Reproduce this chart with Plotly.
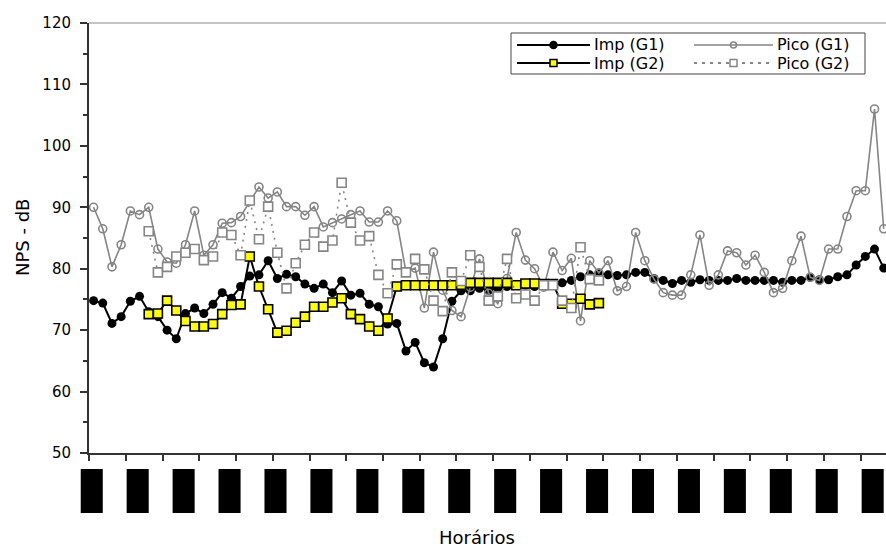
import plotly.graph_objects as go

# ---------------- data ----------------
n_points = 87
cats = list(range(n_points))

imp_g1 = [74.8, 74.4, 71.1, 72.2, 74.7, 75.5, 73.0, 72.2, 70.0, 68.6,
          72.7, 73.6, 72.7, 74.2, 76.1, 75.2, 77.1, 78.8, 79.0, 81.3,
          78.4, 79.1, 78.7, 77.5, 76.8, 77.5, 76.1, 78.0, 75.7, 76.0,
          74.2, 73.8, 71.0, 71.1, 66.6, 68.0, 64.7, 64.0, 68.6, 74.7,
          76.4, 76.4, 76.8, 76.5, 76.8, 77.1, 77.3, 77.3, 77.1, 77.3,
          77.5, 77.7, 78.1, 78.7, 79.0, 79.3, 79.0, 78.9, 79.0, 79.4,
          79.4, 78.4, 78.1, 77.6, 78.1, 77.8, 78.2, 78.1, 78.1, 78.1,
          78.4, 78.1, 78.1, 78.1, 78.1, 77.8, 78.1, 78.1, 78.6, 78.2,
          78.2, 78.7, 79.0, 80.6, 82.0, 83.2, 80.1]

pico_g1 = [90.0, 86.5, 80.3, 83.9, 89.4, 88.8, 90.0, 83.2, 81.1, 80.9,
           83.9, 89.4, 82.2, 83.9, 87.4, 87.5, 88.5, 91.0, 93.3, 91.5,
           92.5, 90.1, 90.1, 88.7, 90.1, 86.8, 87.5, 88.1, 88.8, 89.4,
           87.6, 87.6, 89.4, 87.8, 79.5, 80.1, 73.6, 82.7, 76.5, 73.2,
           72.2, 77.0, 81.6, 76.0, 74.3, 78.4, 85.9, 81.4, 80.0, 77.0,
           82.7, 79.7, 81.7, 71.5, 81.3, 79.3, 81.3, 76.4, 77.1, 85.9,
           81.3, 78.3, 76.1, 75.7, 75.7, 79.0, 85.5, 77.3, 79.0, 82.9,
           82.6, 80.6, 82.2, 79.4, 76.1, 76.8, 81.3, 85.3, 78.6, 78.1,
           83.2, 83.2, 88.5, 92.7, 92.7, 106.0, 86.5]

g2_start = 6
imp_g2 = [72.6, 72.7, 74.8, 73.2, 71.5, 70.6, 70.6, 71.0, 72.6, 74.1,
          74.2, 82.0, 77.1, 73.4, 69.6, 69.9, 71.2, 72.2, 73.8, 73.8,
          74.5, 75.2, 72.6, 71.8, 70.6, 69.9, 71.9, 77.1, 77.3, 77.3,
          77.3, 77.3, 77.3, 77.3, 77.4, 77.7, 77.7, 77.7, 77.7, 77.7,
          77.3, 77.6, 77.6, 77.5, 77.5, 74.3, 74.3, 75.1, 74.2, 74.4]

pico_g2 = [86.1, 79.4, 80.3, 82.0, 82.6, 83.2, 81.4, 82.0, 85.9, 85.5,
           82.2, 91.1, 84.8, 90.1, 82.6, 76.8, 80.9, 83.9, 85.9, 83.6,
           84.6, 94.0, 87.5, 84.6, 85.3, 79.0, 76.0, 80.7, 79.4, 81.6,
           79.9, 74.8, 73.1, 79.4, 78.0, 82.2, 80.3, 74.8, 75.5, 81.6,
           75.2, 75.8, 74.8, 77.3, 77.3, 74.8, 73.6, 83.5, 78.3, 78.1]

series_names = ["Imp (G1)", "Pico (G1)", "Imp (G2)", "Pico (G2)"]
label_cats = list(range(0, n_points, 5))   # positions of the (blacked-out) time labels
y_title = "NPS - dB"
x_title = "Horários"

# ---------------- layout helpers ----------------
W, H = 886, 548
ML, MR, MT, MB = 89, 0, 23, 95
PW, PH = W - ML - MR, H - MT - MB
FONT = "DejaVu Sans"
GRAY = "#858585"
AX = "#333333"
X_RANGE = [-0.5, 86.25]


def fx(px):
    return (px - ML) / PW


def fy(py):
    return (H - MB - py) / PH


def cat_to_paper(c):
    return (c - X_RANGE[0]) / (X_RANGE[1] - X_RANGE[0])


def pad(vals, start):
    return [None] * start + list(vals) + [None] * (n_points - start - len(vals))


fig = go.Figure()
fig.add_trace(go.Scatter(
    x=cats, y=imp_g1, name=series_names[0], mode="lines+markers",
    line=dict(color="black", width=2),
    marker=dict(symbol="circle", size=9, color="black"),
    showlegend=False))
fig.add_trace(go.Scatter(
    x=cats, y=pico_g1, name=series_names[1], mode="lines+markers",
    line=dict(color=GRAY, width=1.6),
    marker=dict(symbol="circle-open", size=8, color=GRAY, line=dict(width=1.6, color=GRAY)),
    showlegend=False))
fig.add_trace(go.Scatter(
    x=cats, y=pad(imp_g2, g2_start), name=series_names[2], mode="lines+markers",
    line=dict(color="black", width=2),
    marker=dict(symbol="square", size=9, color="#FFFF00", line=dict(width=1.6, color="black")),
    showlegend=False))
fig.add_trace(go.Scatter(
    x=cats, y=pad(pico_g2, g2_start), name=series_names[3], mode="lines+markers",
    line=dict(color=GRAY, width=1.6, dash="2px,5px"),
    marker=dict(symbol="square", size=9, color="white", line=dict(width=1.6, color=GRAY)),
    showlegend=False))

shapes = []
# top border of plot area
shapes.append(dict(type="line", xref="paper", yref="paper", x0=0, x1=1, y0=1, y1=1,
                   line=dict(color="#8a8a8a", width=1), layer="below"))
# blacked-out category labels (drawn unclipped, in paper units)
for c in label_cats:
    shapes.append(dict(type="rect", xref="paper", yref="paper",
                       x0=cat_to_paper(c - 1.4), x1=cat_to_paper(c + 1.0),
                       y0=fy(513), y1=fy(469),
                       fillcolor="black", line=dict(width=0)))

# ---------------- legend (manual, Excel style) ----------------
lg_x0, lg_x1, lg_y0, lg_y1 = 511, 865, 33, 74
row_y = [45, 63]
col_line = [(517, 590), (694, 773)]
col_text = [593, 776]
shapes.append(dict(type="rect", xref="paper", yref="paper",
                   x0=fx(lg_x0), x1=fx(lg_x1), y0=fy(lg_y1), y1=fy(lg_y0),
                   fillcolor="white", line=dict(color="#444444", width=1), layer="above"))
styles = [
    dict(lc="black", lw=2, dash="solid", mk="circle", mfill="black", mline="black", ms=7),
    dict(lc=GRAY, lw=1.6, dash="solid", mk="circle", mfill="rgba(0,0,0,0)", mline=GRAY, ms=6),
    dict(lc="black", lw=2, dash="solid", mk="rect", mfill="#FFFF00", mline="black", ms=7),
    dict(lc=GRAY, lw=2, dash="3px,5px", mk="rect", mfill="white", mline=GRAY, ms=7),
]
annotations = []
for k, name in enumerate(series_names):
    r, col = k // 2, k % 2
    st = styles[k]
    yy = row_y[r]
    xa, xb = col_line[col]
    shapes.append(dict(type="line", xref="paper", yref="paper",
                       x0=fx(xa), x1=fx(xb), y0=fy(yy), y1=fy(yy),
                       line=dict(color=st["lc"], width=st["lw"], dash=st["dash"]), layer="above"))
    xm = (xa + xb) / 2
    h = st["ms"] / 2
    shapes.append(dict(type="circle" if st["mk"] == "circle" else "rect",
                       xref="paper", yref="paper",
                       x0=fx(xm - h), x1=fx(xm + h), y0=fy(yy + h), y1=fy(yy - h),
                       fillcolor=st["mfill"], line=dict(color=st["mline"], width=1.5), layer="above"))
    annotations.append(dict(text=name, xref="paper", yref="paper", x=fx(col_text[col]), y=fy(yy),
                            xanchor="left", yanchor="middle", showarrow=False, borderpad=0,
                            font=dict(family=FONT, size=16, color="black")))

annotations.append(dict(text=y_title, xref="paper", yref="paper", x=fx(22), y=fy(238),
                        textangle=-90, xanchor="center", yanchor="middle", showarrow=False,
                        font=dict(family=FONT, size=18, color="black")))
annotations.append(dict(text=x_title, xref="paper", yref="paper", x=fx(477), y=fy(537),
                        xanchor="center", yanchor="middle", showarrow=False,
                        font=dict(family=FONT, size=18, color="black")))

fig.update_layout(
    width=W, height=H,
    margin=dict(l=ML, r=MR, t=MT, b=MB, pad=0),
    paper_bgcolor="white", plot_bgcolor="white",
    font=dict(family=FONT, size=15, color="black"),
    shapes=shapes, annotations=annotations,
    showlegend=False,
    xaxis=dict(range=X_RANGE, tickmode="linear", tick0=-0.5, dtick=4,
               ticks="outside", ticklen=6, tickwidth=1.5, tickcolor=AX,
               showticklabels=False, showgrid=False, zeroline=False,
               showline=True, linecolor=AX, linewidth=2),
    yaxis=dict(range=[50, 120], tickmode="linear", tick0=50, dtick=10,
               ticks="outside", ticklen=7, tickwidth=1.5, tickcolor=AX,
               minor=dict(dtick=5, tick0=50, ticks="outside", ticklen=4, tickwidth=1.5, tickcolor=AX),
               tickfont=dict(family=FONT, size=15, color="black"),
               ticklabelstandoff=6,
               showgrid=False, zeroline=False,
               showline=True, linecolor=AX, linewidth=2),
)

fig.write_html("out.html")
